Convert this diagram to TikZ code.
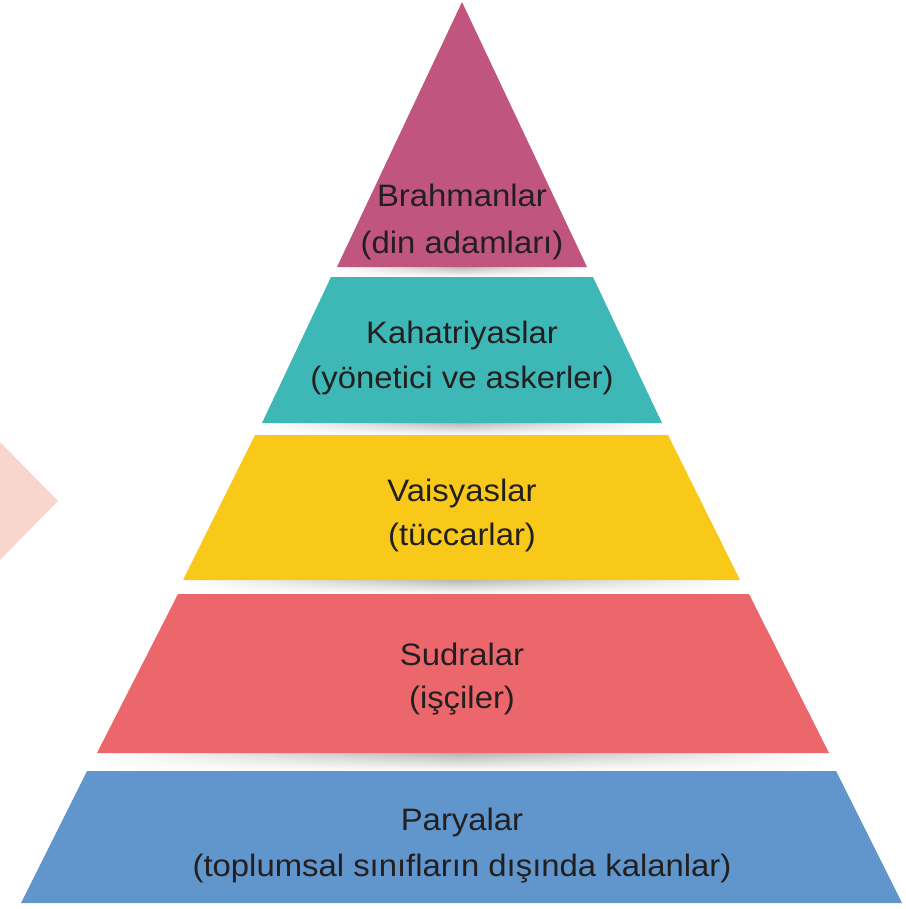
\documentclass[tikz,border=0pt]{standalone}
\usepackage{fontspec}
\setmainfont[FakeStretch=1.06]{Liberation Sans}
\usetikzlibrary{fadings}

\definecolor{brahmanrenk}{RGB}{192,86,128}
\definecolor{kahatrirenk}{RGB}{61,184,182}
\definecolor{vaisyarenk}{RGB}{248,201,24}
\definecolor{sudrarenk}{RGB}{236,103,107}
\definecolor{paryarenk}{RGB}{96,150,204}
\definecolor{okrenk}{RGB}{248,214,205}
\definecolor{yazirenk}{RGB}{35,31,32}

\tikzfading[name=golgesonu, top color=transparent!0, bottom color=transparent!100]

\tikzset{
    yazi/.style={font=\fontsize{31}{36}\selectfont, text=yazirenk, anchor=base, inner sep=0pt},
    golge/.style={left color=white, right color=white, middle color=black!32, path fading=golgesonu}
}

\begin{document}
\begin{tikzpicture}[x=1pt, y=-1pt]
    \useasboundingbox (0,0) rectangle (905,909);

    % Arrow on the left
    \fill[okrenk] (0,442) -- (58,501) -- (0,560) -- cycle;

    % Shadows under the layers
    \shade[golge] (337,265) rectangle (587,277);
    \shade[golge] (262,421) rectangle (662,435);
    \shade[golge] (183,578) rectangle (740,594);
    \shade[golge] (97,751) rectangle (829,771);

    % Brahmanlar
    \fill[brahmanrenk] (462,2) -- (587,267) -- (337,267) -- cycle;
    \node[yazi] (brahman) at (462,207) {Brahmanlar};
    \node[yazi] (brahmanalt) at (462,253) {(din adamları)};

    % Kahatriyaslar
    \fill[kahatrirenk] (331,277) -- (593,277) -- (662,423) -- (262,423) -- cycle;
    \node[yazi] (kahatri) at (462,343) {Kahatriyaslar};
    \node[yazi] (kahatrialt) at (462,388) {(yönetici ve askerler)};

    % Vaisyaslar
    \fill[vaisyarenk] (255,435) -- (668,435) -- (740,580) -- (183,580) -- cycle;
    \node[yazi] (vaisya) at (462,501) {Vaisyaslar};
    \node[yazi] (vaisyaalt) at (462,545) {(tüccarlar)};

    % Sudralar
    \fill[sudrarenk] (178,594) -- (749,594) -- (829,753) -- (97,753) -- cycle;
    \node[yazi] (sudra) at (462,665) {Sudralar};
    \node[yazi] (sudraalt) at (462,708) {(işçiler)};

    % Paryalar
    \fill[paryarenk] (87,771) -- (836,771) -- (902,903) -- (21,903) -- cycle;
    \node[yazi] (parya) at (462,830) {Paryalar};
    \node[yazi] (paryaalt) at (462,876) {(toplumsal sınıfların dışında kalanlar)};
\end{tikzpicture}
\end{document}
